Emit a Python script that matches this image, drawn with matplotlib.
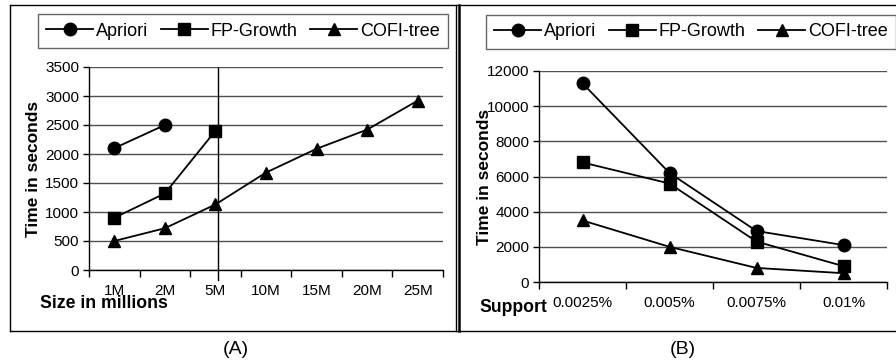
import matplotlib
matplotlib.use('Agg')
import matplotlib.pyplot as plt
from matplotlib.lines import Line2D
from matplotlib.ticker import MultipleLocator, FixedLocator

plt.rcParams['font.family'] = ['Liberation Sans', 'DejaVu Sans']

# データ (A): データサイズ別の実行時間
size_labels = ['1M', '2M', '5M', '10M', '15M', '20M', '25M']
apriori_a = [2100, 2500]
fpgrowth_a = [900, 1320, 2400]
cofi_a = [500, 720, 1130, 1680, 2090, 2420, 2920]

# データ (B): サポート別の実行時間
support_labels = ['0.0025%', '0.005%', '0.0075%', '0.01%']
apriori_b = [11300, 6200, 2900, 2100]
fpgrowth_b = [6800, 5600, 2300, 900]
cofi_b = [3500, 2000, 800, 500]

W, H = 896, 362


def fx(px):
    return px / W


def fy(py):
    return 1 - py / H


fig = plt.figure(figsize=(W / 100, H / 100), dpi=100)

ax_a = fig.add_axes([fx(89), fy(270), fx(443 - 89), (270 - 67) / H])
ax_b = fig.add_axes([fx(539), fy(282), fx(887 - 539), (282 - 71) / H])

series_style = [
    ('Apriori', 'o', 9),
    ('FP-Growth', 's', 8.5),
    ('COFI-tree', '^', 9),
]


def draw_panel(ax, labels, series, ymax, ystep):
    for (name, marker, ms), vals in zip(series_style, series):
        ax.plot(range(len(vals)), vals, color='black', linewidth=1.3,
                marker=marker, markersize=ms, label=name, clip_on=False,
                zorder=3)
    n = len(labels)
    ax.set_xlim(-0.5, n - 0.5)
    ax.set_ylim(0, ymax)
    ax.yaxis.set_major_locator(MultipleLocator(ystep))
    ax.xaxis.set_major_locator(FixedLocator(range(n)))
    ax.set_xticklabels(labels)
    ax.xaxis.set_minor_locator(FixedLocator([i - 0.5 for i in range(n + 1)]))
    ax.tick_params(axis='x', which='major', length=0, pad=10, labelsize=11)
    ax.tick_params(axis='x', which='minor', length=5, width=1, direction='out')
    ax.tick_params(axis='y', length=4, width=1, labelsize=11, pad=3)
    ax.grid(axis='y', color='#505050', linewidth=1)
    ax.set_axisbelow(True)
    for s in ('top', 'right'):
        ax.spines[s].set_visible(False)
    for s in ('left', 'bottom'):
        ax.spines[s].set_linewidth(1)
    ax.set_ylabel('Time in seconds', fontsize=12.5, fontweight='bold')
    ax.yaxis.set_label_coords(-0.136, 0.5)


draw_panel(ax_a, size_labels, [apriori_a, fpgrowth_a, cofi_a], 3500, 500)
draw_panel(ax_b, support_labels, [apriori_b, fpgrowth_b, cofi_b], 12000, 2000)

# (A) の5Mの位置にある縦線
ax_a.axvline(2.06, ymin=-0.05, ymax=0.995, color='black', linewidth=1,
             clip_on=False, zorder=2)

legend_kw = dict(ncol=3, frameon=True, fancybox=False, edgecolor='#404040',
                 fontsize=13, handlelength=2.6, handletextpad=0.15,
                 columnspacing=0.7, borderpad=0.45, borderaxespad=0)
leg_a = ax_a.legend(loc='center', bbox_to_anchor=(fx(243), fy(31)),
                    bbox_transform=fig.transFigure, **legend_kw)
leg_b = ax_b.legend(loc='center', bbox_to_anchor=(fx(691), fy(32)),
                    bbox_transform=fig.transFigure, **legend_kw)
for leg in (leg_a, leg_b):
    leg.get_frame().set_linewidth(1)

fig.text(fx(40), fy(303), 'Size in millions', fontsize=12.7, fontweight='bold',
         ha='left', va='center')
fig.text(fx(479), fy(307), 'Support', fontsize=12.7, fontweight='bold',
         ha='left', va='center')
fig.text(fx(236), fy(349), '(A)', fontsize=14, ha='center', va='center')
fig.text(fx(683), fy(349), '(B)', fontsize=14, ha='center', va='center')

# 外枠
frame = [
    ([10, 896], [5, 5], 1),
    ([10, 896], [331, 331], 1),
    ([10, 10], [5, 331], 1),
    ([456, 456], [5, 331], 1),
    ([459, 459], [5, 331], 1.8),
]
for xs, ys, lw in frame:
    fig.add_artist(Line2D([fx(x) for x in xs], [fy(y) for y in ys],
                          color='black', linewidth=lw))

fig.savefig('out.png', dpi=100)
